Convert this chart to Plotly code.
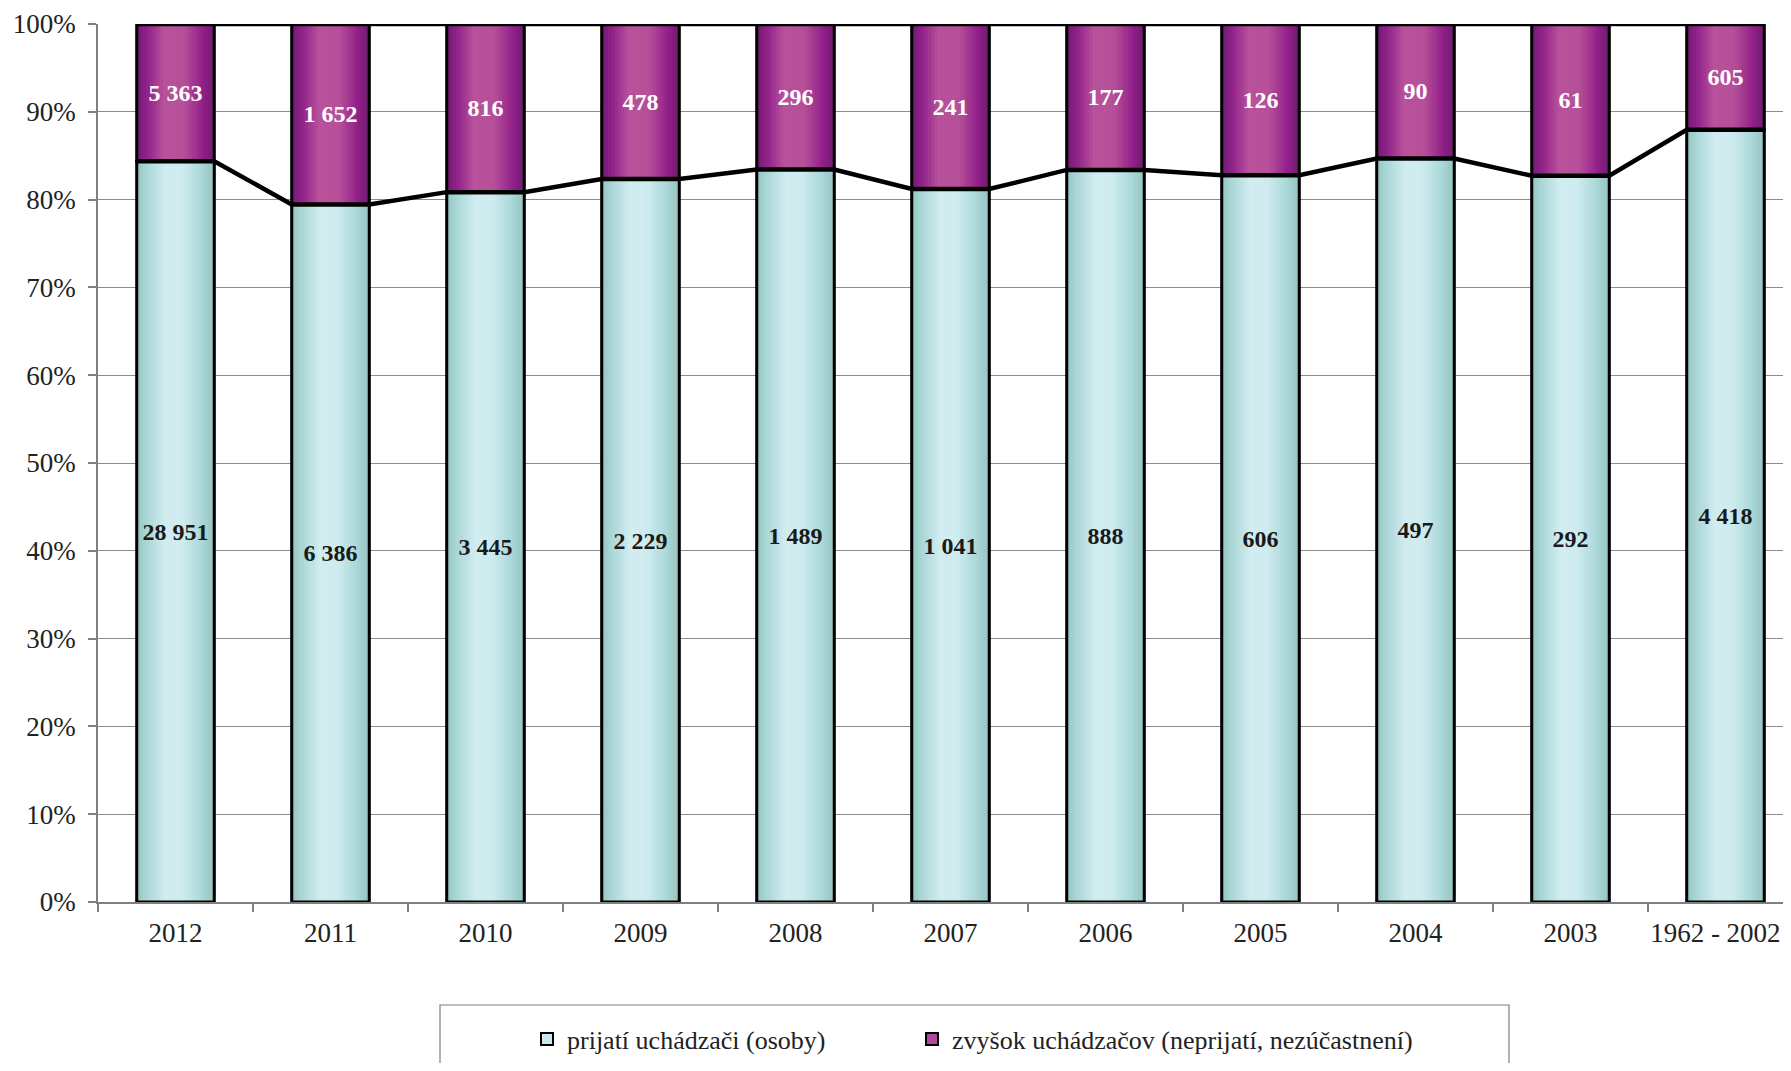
import plotly.graph_objects as go

categories = ["2012", "2011", "2010", "2009", "2008", "2007", "2006", "2005", "2004", "2003", "1962 - 2002"]
admitted = [28951, 6386, 3445, 2229, 1489, 1041, 888, 606, 497, 292, 4418]
rest = [5363, 1652, 816, 478, 296, 241, 177, 126, 90, 61, 605]
y_tick_values = [0, 10, 20, 30, 40, 50, 60, 70, 80, 90, 100]
y_tick_labels = [f"{v}%" for v in y_tick_values]
series_names = ["prijatí uchádzači (osoby)", "zvyšok uchádzačov (neprijatí, nezúčastnení)"]

FONT = "Liberation Serif"
OFF = 8  # page body margin
W, H = 1791 - OFF, 1071 - 2 * OFF
ML, MT = 98 - OFF, 24 - OFF
MR = 0
MB = H - (902 - OFF)
PLOT_W = W - ML - MR
PLOT_H = H - MT - MB
CAT_PX = 155.0

totals = [a + r for a, r in zip(admitted, rest)]
pct_a = [100.0 * a / t for a, t in zip(admitted, totals)]
pct_r = [100.0 * r / t for r, t in zip(rest, totals)]
xs = list(range(len(categories)))
BAR_W = 0.5

# keep the last (edge) label fully inside the visible page
tick_text = list(categories)
tick_text[-1] = tick_text[-1] + "\u00a0\u00a0\u00a0"


def fmt(v):
    return f"{v:,}".replace(",", " ")


def hex2rgb(h):
    h = h.lstrip("#")
    return tuple(int(h[i:i + 2], 16) for i in (0, 2, 4))


def interp(stops, t):
    for (t0, c0), (t1, c1) in zip(stops, stops[1:]):
        if t0 <= t <= t1:
            f = 0 if t1 == t0 else (t - t0) / (t1 - t0)
            a, b = hex2rgb(c0), hex2rgb(c1)
            return "rgb(%d,%d,%d)" % tuple(round(a[i] + (b[i] - a[i]) * f) for i in range(3))
    return stops[-1][1]


cyan_stops = [(0.0, "#94c4c2"), (0.12, "#a9d6d5"), (0.38, "#d2edf1"), (0.6, "#cdebee"),
              (0.82, "#acd9d9"), (1.0, "#97c3c2")]
purple_stops = [(0.0, "#6e1c6e"), (0.12, "#8e1f88"), (0.35, "#b8529b"), (0.62, "#b44f98"),
                (0.85, "#921f8a"), (1.0, "#6d1c6c")]


def px_x(p):  # page pixel -> paper
    return (p - OFF - ML) / PLOT_W


def px_y(p):
    return (MT + PLOT_H - (p - OFF)) / PLOT_H


fig = go.Figure()

# legend / base bars
fig.add_trace(go.Bar(x=xs, y=pct_a, base=[0] * len(xs), width=BAR_W, name=series_names[0],
                     marker=dict(color="#c9e9ec", line=dict(color="black", width=2)),
                     hoverinfo="skip", legend="legend"))
fig.add_trace(go.Bar(x=xs, y=pct_r, base=pct_a, width=BAR_W, name=series_names[1],
                     marker=dict(color="#b04a98", line=dict(color="black", width=2)),
                     hoverinfo="skip", legend="legend2"))

# gradient strips
N = 24
sw = BAR_W / N
for k in range(N):
    t = (k + 0.5) / N
    off = -BAR_W / 2 + k * sw
    fig.add_trace(go.Bar(x=xs, y=pct_a, base=[0] * len(xs), width=sw * 1.15, offset=off,
                         marker=dict(color=interp(cyan_stops, t), line=dict(width=0)),
                         showlegend=False, hoverinfo="skip"))
    fig.add_trace(go.Bar(x=xs, y=pct_r, base=pct_a, width=sw * 1.15, offset=off,
                         marker=dict(color=interp(purple_stops, t), line=dict(width=0)),
                         showlegend=False, hoverinfo="skip"))

# outlines + labels
fig.add_trace(go.Bar(x=xs, y=pct_a, base=[0] * len(xs), width=BAR_W,
                     marker=dict(color="rgba(0,0,0,0)", line=dict(color="black", width=3)),
                     text=[fmt(v) for v in admitted], textposition="inside",
                     insidetextanchor="middle", textangle=0, constraintext="none",
                     textfont=dict(family=FONT, size=24, color="#1a1a1a", weight="bold"),
                     showlegend=False, hoverinfo="skip"))
fig.add_trace(go.Bar(x=xs, y=pct_r, base=pct_a, width=BAR_W,
                     marker=dict(color="rgba(0,0,0,0)", line=dict(color="black", width=3)),
                     text=[fmt(v) for v in rest], textposition="inside",
                     insidetextanchor="middle", textangle=0, constraintext="none",
                     textfont=dict(family=FONT, size=24, color="white", weight="bold"),
                     showlegend=False, hoverinfo="skip"))

# series lines
lx, ly, tx, ty = [], [], [], []
for i, (pa, pr) in enumerate(zip(pct_a, pct_r)):
    lx += [i - BAR_W / 2, i + BAR_W / 2]
    ly += [pa, pa]
    tx += [i - BAR_W / 2, i + BAR_W / 2]
    ty += [pa + pr, pa + pr]
fig.add_trace(go.Scatter(x=lx, y=ly, mode="lines", line=dict(color="black", width=4.5),
                         showlegend=False, hoverinfo="skip", cliponaxis=False))
fig.add_trace(go.Scatter(x=tx, y=ty, mode="lines", line=dict(color="black", width=4.5),
                         showlegend=False, hoverinfo="skip", cliponaxis=False))

x_max = -0.5 + PLOT_W / CAT_PX

fig.add_shape(type="rect", xref="paper", yref="paper",
              x0=px_x(440), x1=px_x(1509), y0=px_y(1005), y1=px_y(1090),
              line=dict(color="#7f7f7f", width=1.2), fillcolor="rgba(0,0,0,0)", layer="below")

leg_common = dict(orientation="h", yanchor="middle", xanchor="left",
                  font=dict(family=FONT, size=26, color="#222222"),
                  bgcolor="rgba(0,0,0,0)", itemwidth=30)

fig.update_layout(
    width=W, height=H,
    margin=dict(l=ML, r=MR, t=MT, b=MB, autoexpand=False),
    plot_bgcolor="white", paper_bgcolor="white",
    barmode="overlay",
    font=dict(family=FONT, size=27, color="#222222"),
    xaxis=dict(range=[-0.5, x_max], tickvals=xs, ticktext=tick_text, ticks="",
               ticklabeloverflow="allow",
               showgrid=False, zeroline=False, showline=True, linecolor="#808080", linewidth=1.5,
               tickfont=dict(family=FONT, size=27, color="#222222"),
               minor=dict(tickvals=[i - 0.5 for i in range(len(categories) + 1)],
                          ticks="outside", ticklen=8, tickcolor="#808080", tickwidth=1.5),
               ticklabelstandoff=6),
    yaxis=dict(range=[0, 100], tickvals=y_tick_values, ticktext=y_tick_labels, ticks="outside",
               ticklen=8, tickcolor="#808080", tickwidth=1.5,
               showgrid=True, gridcolor="#8c8c8c", gridwidth=1, zeroline=False,
               showline=True, linecolor="#808080", linewidth=1.5,
               tickfont=dict(family=FONT, size=27, color="#222222"), ticklabelstandoff=7),
    legend=dict(x=px_x(527), y=px_y(1039), **leg_common),
    legend2=dict(x=px_x(912), y=px_y(1039), **leg_common),
    showlegend=True,
)

fig.write_html("out.html")
